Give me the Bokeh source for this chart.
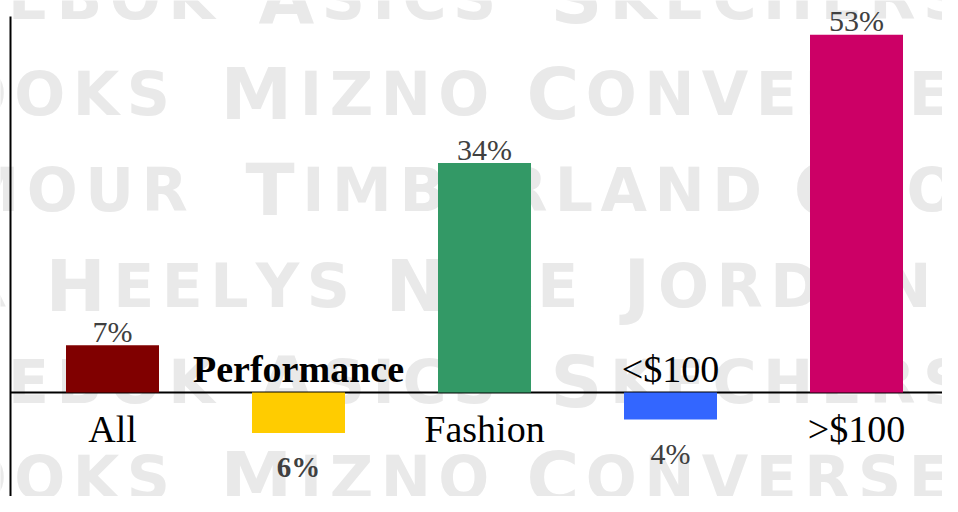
from bokeh.plotting import figure
from bokeh.models import ColumnDataSource, Range1d
from bokeh.core.properties import value
from bokeh.embed import file_html
from bokeh.resources import INLINE

# ---------------- data ----------------
categories = ["All", "Performance", "Fashion", "<$100", ">$100"]
changes = [7, -6, 34, -4, 53]
value_labels = ["7%", "6%", "34%", "4%", "53%"]
bar_colors = ["#800000", "#FFCC00", "#339966", "#3366FF", "#CC0066"]
highlight = "Performance"

watermark_rows = [
    ["REEBOK", "ASICS", "SKECHERS"],
    ["BROOKS", "MIZNO", "CONVERSE"],
    ["ARMOUR", "TIMBERLAND", "CROCS"],
    ["UNDER", "HEELYS", "NIKE", "JORDAN"],
]

# ---------------- layout / style ----------------
W, H = 942, 496
SLOT_PX = 186.0       # pixels between bar centres
FIRST_PX = 112.0      # first bar centre from frame left
BASE_PX = 392.0       # zero line from frame top
PCT_PX = 6.75         # pixels per percent
AXIS_PX = 10.0        # left axis line position
AXIS_TOP_PX = 16.0

x_start = -FIRST_PX / SLOT_PX
x_end = x_start + W / SLOT_PX
y_end = BASE_PX / PCT_PX
y_start = y_end - H / PCT_PX
axis_x = x_start + AXIS_PX / SLOT_PX

p = figure(width=W, height=H, x_range=Range1d(x_start, x_end),
           y_range=Range1d(y_start, y_end), output_backend="svg",
           toolbar_location=None, min_border=0, outline_line_color=None)
p.axis.visible = False
p.grid.visible = False
p.background_fill_color = "white"
p.border_fill_color = "white"

# ---------------- watermark (decorative background) ----------------
ADV = {"A": .774, "B": .763, "C": .718, "D": .829, "E": .683, "H": .836,
       "I": .374, "J": .374, "K": .776, "L": .637, "M": .996, "N": .836,
       "O": .850, "R": .770, "S": .722, "T": .683, "U": .812, "V": .774,
       "Y": .724, "Z": .725}
BIG, SMALL, TRACK = 72, 60, 7.5
word_starts = [[-99, 263, 555], [-156, 225, 531], [-153, 250, 798],
               [-264, 50, 390, 628]]
ROW0, ROW_STEP, N_ROWS = -3, 96, 6
X_SHIFT = -5

wm = dict(t=[], xo=[], yo=[], fs=[])
for k in range(N_ROWS):
    r = k % len(watermark_rows)
    base = ROW0 + ROW_STEP * k
    for word, sx in zip(watermark_rows[r], word_starts[r]):
        cx = sx + X_SHIFT
        for i, ch in enumerate(word):
            size = BIG if i == 0 else SMALL
            wm["t"].append(ch)
            wm["xo"].append(cx)
            wm["yo"].append(base)
            wm["fs"].append(f"{size}px")
            cx += ADV.get(ch, 0.75) * size + TRACK

p.text(x=x_start, y=y_end, text="t", x_offset="xo", y_offset="yo",
       text_font_size="fs", source=ColumnDataSource(wm),
       text_font=value("DejaVu Sans"), text_font_style="bold",
       text_color="#e9e9e9", text_align="left", text_baseline="alphabetic",
       level="image")

# ---------------- zero line & left axis line ----------------
p.segment(x0=[axis_x], y0=[0], x1=[x_end], y1=[0], line_color="black",
          line_width=2, level="underlay")
p.segment(x0=[axis_x], y0=[y_end - AXIS_TOP_PX / PCT_PX], x1=[axis_x],
          y1=[y_start], line_color="black", line_width=2)

# ---------------- bars ----------------
xs = list(range(len(categories)))
bars = ColumnDataSource(dict(x=xs, top=changes, color=bar_colors))
p.vbar(x="x", top="top", bottom=0, width=0.5, fill_color="color",
       line_color=None, source=bars)

# ---------------- labels ----------------
def label_sources(bold):
    cat = dict(x=[], y=[], yo=[], t=[])
    val = dict(x=[], y=[], yo=[], t=[])
    for x, c, v, lab in zip(xs, categories, changes, value_labels):
        if (c == highlight) != bold:
            continue
        if v >= 0:
            val["x"].append(x); val["y"].append(v); val["yo"].append(-14); val["t"].append(lab)
            cat["x"].append(x); cat["y"].append(0); cat["yo"].append(36); cat["t"].append(c)
        else:
            val["x"].append(x); val["y"].append(v); val["yo"].append(34); val["t"].append(lab)
            cat["x"].append(x); cat["y"].append(0); cat["yo"].append(-24); cat["t"].append(c)
    return ColumnDataSource(cat), ColumnDataSource(val)

for bold in (False, True):
    cs, vs = label_sources(bold)
    style = "bold" if bold else "normal"
    p.text(x="x", y="y", text="t", y_offset="yo", source=cs,
           text_font=value("Liberation Serif"), text_font_style=style,
           text_font_size="38px", text_color="black",
           text_align="center", text_baseline="alphabetic")
    p.text(x="x", y="y", text="t", y_offset="yo", source=vs,
           text_font=value("Liberation Serif"), text_font_style=style,
           text_font_size="29px" if bold else "30px", text_color="#404040",
           text_align="center", text_baseline="alphabetic")

open("out.html", "w").write(file_html(p, INLINE, "chart"))
